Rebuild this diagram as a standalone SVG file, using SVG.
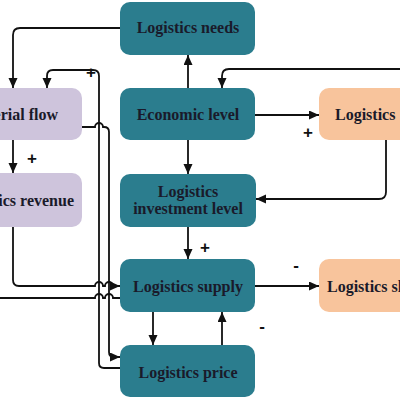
<svg xmlns="http://www.w3.org/2000/svg" width="400" height="400" viewBox="0 0 400 400">
<defs>
<style>
.teal{fill:#2b7d8e}
.purple{fill:#cec4dc}
.orange{fill:#f8c49c}
text{font-family:"Liberation Serif","Times New Roman",serif;font-weight:bold;font-size:16px;fill:#1a1a2a}
.c{text-anchor:middle}
.e{text-anchor:end}
.ln{fill:none;stroke:#111;stroke-width:1.8}
.sign{font-family:"Liberation Sans",Arial,sans-serif;font-size:17px;fill:#111}
</style>
<marker id="ah" markerUnits="userSpaceOnUse" markerWidth="11" markerHeight="10" refX="10" refY="4.5" orient="auto">
<path d="M0,0 L10,4.5 L0,9 z" fill="#111"/>
</marker>
</defs>
<rect width="400" height="400" fill="#fff"/>

<g id="logistics-needs"><rect class="teal" x="120" y="2" width="135" height="53" rx="10"/><text class="c" x="188" y="33">Logistics needs</text></g>
<g id="economic-level"><rect class="teal" x="120" y="88" width="135" height="52" rx="10"/><text class="c" x="188" y="120">Economic level</text></g>
<g id="investment-level"><rect class="teal" x="120" y="174" width="136" height="53" rx="10"/><text class="c" x="188" y="197">Logistics</text><text class="c" x="188" y="214">investment level</text></g>
<g id="logistics-supply"><rect class="teal" x="120" y="259" width="135" height="53" rx="10"/><text class="c" x="188" y="292">Logistics supply</text></g>
<g id="logistics-price"><rect class="teal" x="120" y="345" width="135" height="52" rx="10"/><text class="c" x="188" y="378">Logistics price</text></g>
<g id="material-flow"><rect class="purple" x="-60" y="88" width="142" height="52" rx="10"/><text class="e" x="58" y="120">Material flow</text></g>
<g id="logistics-revenue"><rect class="purple" x="-60" y="173" width="142" height="54" rx="10"/><text class="e" x="74" y="206">Logistics revenue</text></g>
<g id="logistics-cost"><rect class="orange" x="319" y="88" width="140" height="52" rx="10"/><text x="335" y="120">Logistics</text></g>
<g id="logistics-shortage"><rect class="orange" x="319" y="259" width="140" height="53" rx="10"/><text x="327" y="292">Logistics shortage</text></g>

<g id="connectors">
<path class="ln" d="M120 28 H20 Q13 28 13 35 V88" marker-end="url(#ah)"/>
<path class="ln" d="M188 88 V55" marker-end="url(#ah)"/>
<path class="ln" d="M188 140 V174" marker-end="url(#ah)"/>
<path class="ln" d="M188 227 V259" marker-end="url(#ah)"/>
<path class="ln" d="M13 140 V173" marker-end="url(#ah)"/>
<path class="ln" d="M255 115 H319" marker-end="url(#ah)"/>
<path class="ln" d="M400 69 H229 Q222 69 222 76 V88" marker-end="url(#ah)"/>
<path class="ln" d="M386 140 V192 Q386 199 379 199 H256" marker-end="url(#ah)"/>
<path class="ln" d="M255 286 H319" marker-end="url(#ah)"/>
<path class="ln" d="M153 312 V345" marker-end="url(#ah)"/>
<path class="ln" d="M222 345 V312" marker-end="url(#ah)"/>
<path class="ln" d="M120 368 H104 Q99 368 99 363 V76 Q99 70 93 70 H53 Q47 70 47 76 V88" marker-end="url(#ah)"/>
<path class="ln" d="M82 127 H95 A4 4 0 0 1 103 127 H104 Q109 127 109 132 V352 Q109 357 114 357 H120" marker-end="url(#ah)"/>
<path class="ln" d="M13 227 V280 Q13 286 19 286 H95 A4 4 0 0 1 103 286 H105 A4 4 0 0 1 113 286 H120" marker-end="url(#ah)"/>
<path class="ln" d="M0 298 H95 A4 4 0 0 1 103 298 H105 A4 4 0 0 1 113 298 H120"/>
</g>

<g id="labels">
<text class="sign c" x="91" y="78">+</text>
<text class="sign c" x="32" y="164">+</text>
<text class="sign c" x="308" y="138">+</text>
<text class="sign c" x="205" y="253">+</text>
<text class="sign c" x="296" y="271">-</text>
<text class="sign c" x="262" y="332">-</text>
</g>
</svg>
